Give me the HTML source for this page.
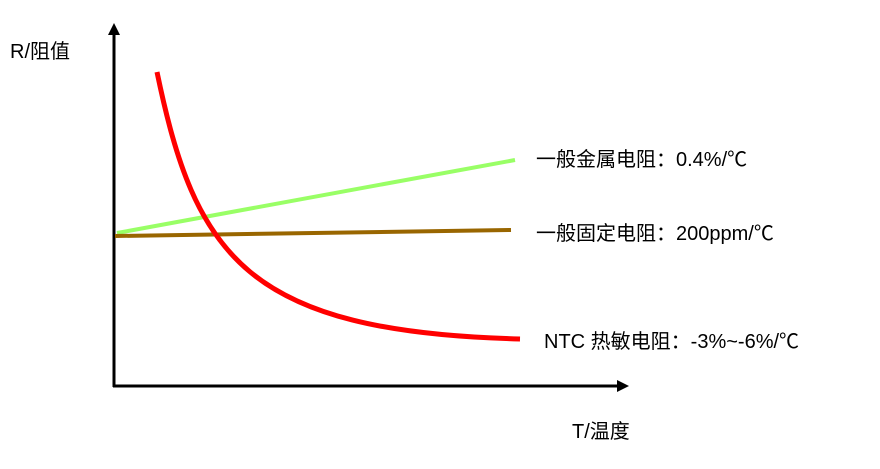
<!DOCTYPE html>
<html><head><meta charset="utf-8"><style>
body{margin:0;background:#fff}
text{font-family:"Liberation Sans","Noto Sans CJK SC",sans-serif;font-size:20px;fill:#000}
</style></head><body>
<svg width="880" height="464" viewBox="0 0 880 464" xmlns="http://www.w3.org/2000/svg">
<line x1="114" y1="34" x2="114" y2="387" stroke="#000" stroke-width="3"/>
<polygon points="114,23 108,35 120,35" fill="#000"/>
<line x1="113" y1="386" x2="618" y2="386" stroke="#000" stroke-width="3"/>
<polygon points="629,386 617,380 617,392" fill="#000"/>
<line x1="117" y1="233" x2="515" y2="160" stroke="#99ff66" stroke-width="4"/>
<line x1="115" y1="236" x2="511" y2="230" stroke="#996600" stroke-width="4"/>
<path d="M157,72 C195,255 245,332 520,339" fill="none" stroke="#ff0000" stroke-width="5"/>
<text x="10" y="58">R/阻值</text>
<text x="572" y="438">T/温度</text>
<text x="536" y="166">一般金属电阻：0.4%/℃</text>
<text x="536" y="240">一般固定电阻：200ppm/℃</text>
<text x="544" y="348">NTC 热敏电阻：-3%~-6%/℃</text>
</svg>
</body></html>
